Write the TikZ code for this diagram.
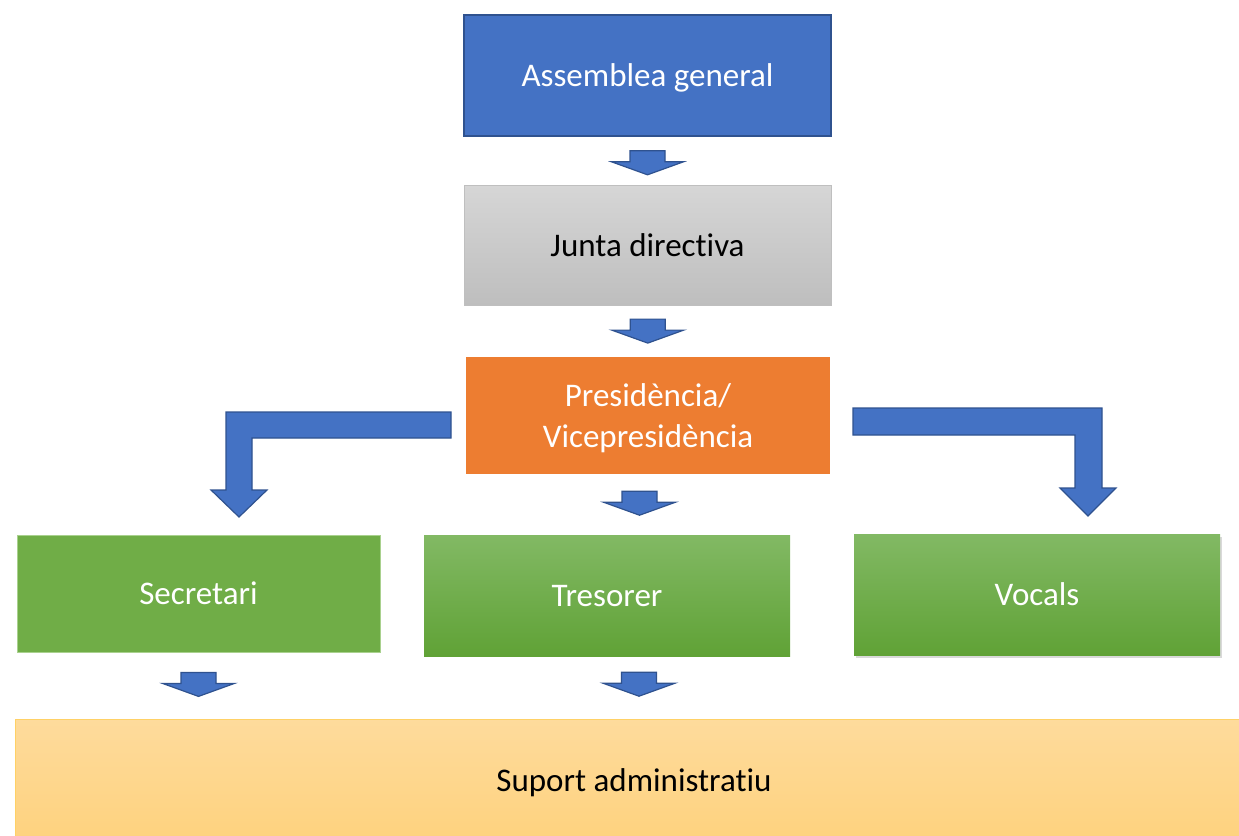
\documentclass[tikz,border=0pt]{standalone}
\usepackage{fontspec}
\setmainfont{Carlito}[Ligatures={NoCommon}]
\usetikzlibrary{calc,shadows}

\definecolor{accblue}{HTML}{4472C4}
\definecolor{accblueline}{HTML}{2F528F}
\definecolor{accorange}{HTML}{ED7D31}
\definecolor{accgreen}{HTML}{70AD47}
\definecolor{greenline}{HTML}{A9D18E}
\definecolor{greentop}{HTML}{82B964}
\definecolor{greenbot}{HTML}{60A236}
\definecolor{graytop}{HTML}{D6D6D6}
\definecolor{graybot}{HTML}{BEBEBE}
\definecolor{grayline}{HTML}{BFBFBF}
\definecolor{goldtop}{HTML}{FEDB9C}
\definecolor{goldbot}{HTML}{FED27E}
\definecolor{goldline}{HTML}{FFD166}

\begin{document}
\begin{tikzpicture}[
  x=1pt,y=-1pt,
  every node/.style={align=center,inner sep=0pt,text depth=0pt,font=\fontsize{33}{41}\selectfont},
  box/.style={rectangle,minimum width=367pt,minimum height=121pt},
  blueblock/.style={box,fill=accblue,draw=accblueline,line width=2pt,text=white},
  grayblock/.style={box,top color=graytop,bottom color=graybot,draw=grayline,line width=0.8pt},
  orangeblock/.style={box,fill=accorange,text=white},
  greenblock/.style={box,text=white},
  greenfade/.style={top color=greentop,bottom color=greenbot},
  goldblock/.style={box,top color=goldtop,bottom color=goldbot,draw=goldline,line width=1pt},
  blockarrow/.style={fill=accblue,draw=accblueline,line width=1.2pt,line join=miter},
  downarr/.pic={\draw[blockarrow] (-17.5,-12) -- (17.5,-12) -- (17.5,-1) -- (36,-1)
      -- (0,12) -- (-36,-1) -- (-17.5,-1) -- cycle;}
]
\useasboundingbox (0,0) rectangle (1239,835);

% boxes
\node[blueblock] (assemblea) at (647.5,75.5) {Assemblea general};
\node[grayblock,minimum height=120pt] (junta) at (647.5,245) {Junta directiva};
\node[orangeblock,minimum width=364pt,minimum height=117pt] (pres) at (648,415.5) {Presidència/\\Vicepresidència};
\node[greenblock,fill=accgreen,draw=greenline,line width=0.8pt,minimum width=363pt,minimum height=117pt] (secretari) at (198.5,593.5) {Secretari};
\node[greenblock,greenfade,minimum width=366pt] (tresorer) at (607,595.5) {Tresorer};
\node[greenblock,greenfade,minimum width=366pt,
  drop shadow={shadow xshift=2pt,shadow yshift=-3pt,opacity=0.3}] (vocals) at (1037,594.5) {Vocals};
\node[goldblock,minimum width=1238pt,minimum height=122pt] (suport) at (634,780) {Suport administratiu};

% straight arrows
\pic at ([yshift=-2pt]$(assemblea.south)!.5!(junta.north)$) {downarr};
\pic at ($(junta.south)!.5!(pres.north)$) {downarr};
\pic at ([xshift=-8.5pt,yshift=-29pt]pres.south) {downarr};
\pic at ([yshift=-32pt]secretari.south) {downarr};
\pic at ([xshift=32pt,yshift=-28pt]tresorer.south) {downarr};

% bent arrows
\draw[blockarrow] (451,412) -- (226,412) -- (226,490) -- (211,490) -- (239,517)
  -- (267,490) -- (252,490) -- (252,438) -- (451,438) -- cycle;
\draw[blockarrow] (853,408) -- (1102,408) -- (1102,488) -- (1116,488) -- (1088,516)
  -- (1060,488) -- (1075,488) -- (1075,435) -- (853,435) -- cycle;
\end{tikzpicture}
\end{document}
